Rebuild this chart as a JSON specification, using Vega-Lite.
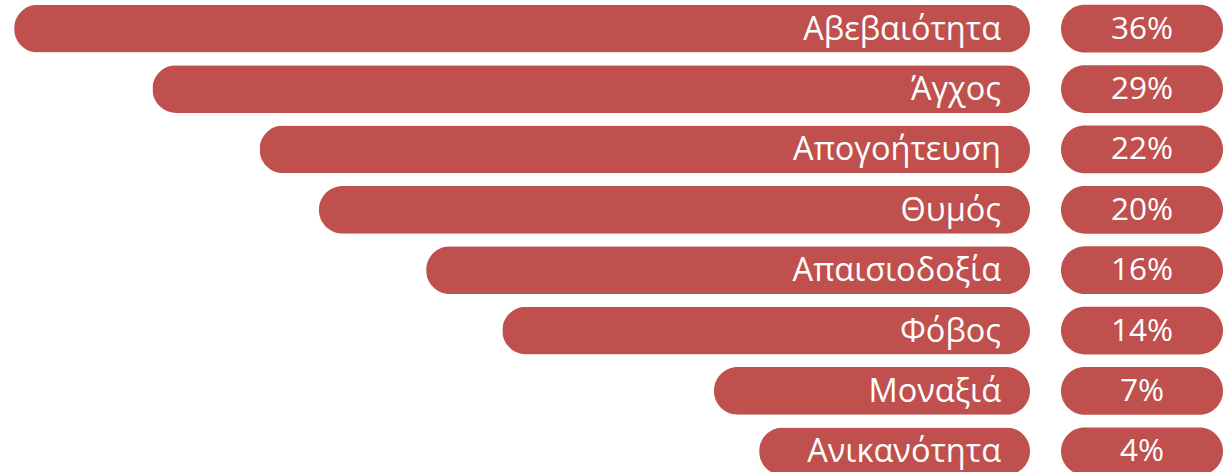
{
  "$schema": "https://vega.github.io/schema/vega-lite/v6.json",
  "padding": 0,
  "background": "white",
  "spacing": 31,
  "config": {"view": {"stroke": null}},
  "data": {
    "values": [
      {"label": "Αβεβαιότητα", "pct": "36%", "bar": 36.0},
      {"label": "Άγχος", "pct": "29%", "bar": 31.1},
      {"label": "Απογοήτευση", "pct": "22%", "bar": 27.3},
      {"label": "Θυμός", "pct": "20%", "bar": 25.2},
      {"label": "Απαισιοδοξία", "pct": "16%", "bar": 21.4},
      {"label": "Φόβος", "pct": "14%", "bar": 18.7},
      {"label": "Μοναξιά", "pct": "7%", "bar": 11.2},
      {"label": "Ανικανότητα", "pct": "4%", "bar": 9.6}
    ]
  },
  "hconcat": [
    {
      "width": 1030,
      "height": 472,
      "encoding": {
        "y": {
          "field": "label", "type": "nominal", "sort": null, "axis": null,
          "scale": {"range": [0, 480], "paddingInner": 0.21, "paddingOuter": 0.08}
        }
      },
      "layer": [
        {
          "mark": {"type": "bar", "color": "#C0504D", "cornerRadius": 23.8},
          "encoding": {
            "x": {"field": "bar", "type": "quantitative", "axis": null,
                  "scale": {"domain": [0, 36.5], "reverse": true, "nice": false}}
          }
        },
        {
          "mark": {"type": "text", "color": "white", "font": "Open Sans", "fontSize": 32.5, "align": "right", "baseline": "middle", "dx": -29, "dy": 1},
          "encoding": {
            "x": {"datum": 0, "type": "quantitative"},
            "text": {"field": "label"}
          }
        }
      ]
    },
    {
      "width": 162,
      "height": 472,
      "encoding": {
        "y": {
          "field": "label", "type": "nominal", "sort": null, "axis": null,
          "scale": {"range": [0, 480], "paddingInner": 0.21, "paddingOuter": 0.08}
        }
      },
      "layer": [
        {
          "mark": {"type": "bar", "color": "#C0504D", "cornerRadius": 23.8},
          "encoding": {
            "x": {"datum": 0, "type": "quantitative", "axis": null, "scale": {"domain": [0, 1], "nice": false}},
            "x2": {"datum": 1}
          }
        },
        {
          "mark": {"type": "text", "color": "white", "font": "Open Sans", "fontSize": 31.5, "align": "center", "baseline": "middle", "dy": 1},
          "encoding": {
            "x": {"datum": 0.5, "type": "quantitative"},
            "text": {"field": "pct"}
          }
        }
      ]
    }
  ]
}
